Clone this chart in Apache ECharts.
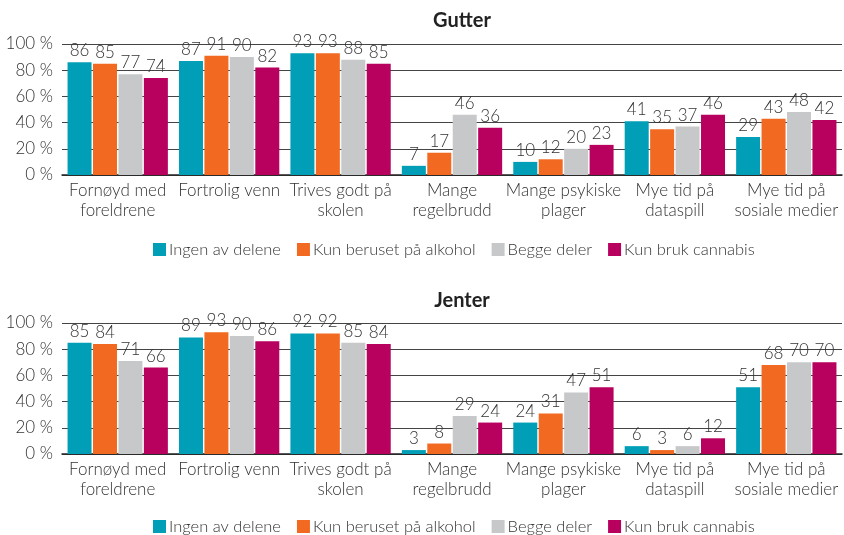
<!DOCTYPE html>
<html><head><meta charset="utf-8">
<script src="https://cdn.jsdelivr.net/npm/echarts@6/dist/echarts.min.js"></script>
<style>html,body{margin:0;padding:0;background:#fff}#c{width:844px;height:535px}</style>
</head><body><div id="c"></div>
<script>
const categories = ['Fornøyd med\nforeldrene','Fortrolig venn','Trives godt på\nskolen','Mange\nregelbrudd','Mange psykiske\nplager','Mye tid på\ndataspill','Mye tid på\nsosiale medier'];
const seriesNames = ['Ingen av delene','Kun beruset på alkohol','Begge deler','Kun bruk cannabis'];
const colors = ['#009fb7','#f26a22','#c7c8ca','#b8005e'];
const yTicks = [0,20,40,60,80,100];
// Gutter
const gutterIngen = [86,87,93,7,10,41,29];
const gutterAlkohol = [85,91,93,17,12,35,43];
const gutterBegge = [77,90,88,46,20,37,48];
const gutterCannabis = [74,82,85,36,23,46,42];
// Jenter
const jenterIngen = [85,89,92,3,24,6,51];
const jenterAlkohol = [84,93,92,8,31,3,68];
const jenterBegge = [71,90,85,29,47,6,70];
const jenterCannabis = [66,86,84,24,51,12,70];

const FONT = 'Lato';
const FW = 300;
const gutter = [gutterIngen,gutterAlkohol,gutterBegge,gutterCannabis];
const jenter = [jenterIngen,jenterAlkohol,jenterBegge,jenterCannabis];

function xAx(i){return {type:'category',gridIndex:i,data:categories,
  axisLine:{show:true,lineStyle:{color:'#222',width:1.5}},axisTick:{show:false},
  axisLabel:{color:'#333',fontFamily:FONT,fontWeight:FW,fontSize:17,lineHeight:20,margin:6,interval:0}};}
function yAx(i){return {type:'value',gridIndex:i,min:yTicks[0],max:yTicks[yTicks.length-1],interval:20,
  axisLine:{show:false},axisTick:{show:false},
  splitLine:{lineStyle:{color:'#444',width:1.2}},
  axisLabel:{color:'#333',fontFamily:FONT,fontWeight:FW,fontSize:17,margin:9,formatter:v=>v+' %'}};}
function mk(data,g){return data.map((d,k)=>({name:seriesNames[k],type:'bar',xAxisIndex:g,yAxisIndex:g,data:d,
  barWidth:24,barGap:'6%',itemStyle:{color:colors[k]},
  label:{show:true,position:'top',distance:3,color:'#333',fontFamily:FONT,fontWeight:FW,fontSize:17}}));}
function leg(top){return {top:top,left:148,itemWidth:13,itemHeight:13,itemGap:16,
  icon:'rect',data:seriesNames,textStyle:{color:'#333',fontFamily:FONT,fontWeight:FW,fontSize:16.5,padding:[0,0,0,-2]}};}

const chart = echarts.init(document.getElementById('c'),null,{renderer:'canvas'});
chart.setOption({
  animation:false,
  color:colors,
  title:[
    {text:'Gutter',left:457,textAlign:'center',top:6,textStyle:{fontFamily:FONT,fontWeight:'bold',fontSize:20,color:'#222'}},
    {text:'Jenter',left:457,textAlign:'center',top:286,textStyle:{fontFamily:FONT,fontWeight:'bold',fontSize:20,color:'#222'}}
  ],
  legend:[leg(236),leg(513)],
  grid:[
    {left:62,right:2,top:44,height:131},
    {left:62,right:2,top:323,height:131}
  ],
  xAxis:[xAx(0),xAx(1)],
  yAxis:[yAx(0),yAx(1)],
  series:[...mk(gutter,0),...mk(jenter,1)]
});
</script></body></html>
